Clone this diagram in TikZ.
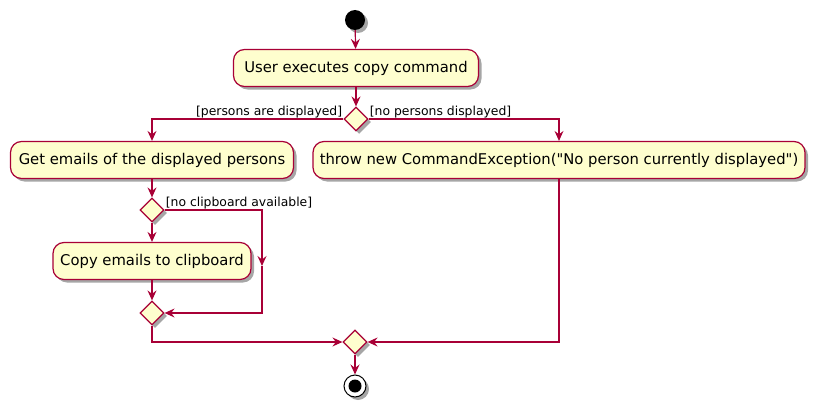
\documentclass[tikz,border=0pt]{standalone}
\usepackage{fontspec}
\newfontfamily\dvs{DejaVu Sans}
\usetikzlibrary{arrows.meta,shapes.geometric,shadows}
\definecolor{pborder}{HTML}{A80036}
\definecolor{pfill}{HTML}{FEFECE}
\begin{document}
\begin{tikzpicture}[x=1pt,y=-1pt,
  shad/.style={drop shadow={shadow xshift=3pt,shadow yshift=-3pt,opacity=0.35,fill=black}},
  actbox/.style={draw=pborder,fill=pfill,line width=1.2pt,rounded corners=11pt,
    minimum height=37pt,inner xsep=0pt,font=\dvs\fontsize{14.8}{16}\selectfont,shad},
  decis/.style={diamond,draw=pborder,fill=pfill,line width=1.2pt,minimum width=24pt,
    minimum height=24pt,inner sep=0pt,shad},
  conn/.style={draw=pborder,line width=1.2pt,-{Stealth[length=10pt,width=9pt,inset=3.5pt]}},
  guard/.style={font=\dvs\fontsize{12.4}{13}\selectfont,inner sep=1pt}]
\useasboundingbox (0,0) rectangle (821,412);
\node[circle,fill=black,minimum size=20pt,inner sep=0pt,shad] (start) at (355,20) {};
\node[actbox,minimum width=245pt] (b1) at (356,68) {User executes copy command};
\node[decis] (d1) at (356,119) {};
\node[actbox,minimum width=283pt] (b2) at (152,160) {Get emails of the displayed persons};
\node[actbox,minimum width=492pt] (b3) at (559,160) {throw new CommandException("No person currently displayed")};
\node[decis] (d2) at (152,210) {};
\node[actbox,minimum width=198pt] (b4) at (152,261) {Copy emails to clipboard};
\node[decis] (d3) at (152,313) {};
\node[decis] (d4) at (355,342) {};
\node[circle,draw=black,fill=white,line width=1pt,minimum size=22pt,inner sep=0pt,shad] (end) at (355,386) {};
\node[circle,fill=black,minimum size=13pt,inner sep=0pt] (endin) at (end) {};
\coordinate (c1) at (262,266);

\draw[conn] (start) -- (b1);
\draw[conn] (b1) -- (d1);
\draw[conn] (d1.west) -| (b2.north);
\draw[conn] (d1.east) -| (b3.north);
\node[guard,anchor=south east] (g1) at (d1.west) {[persons are displayed]};
\node[guard,anchor=south west] (g2) at (d1.east) {[no persons displayed]};
\draw[conn] (b2) -- (d2);
\draw[conn] (d2) -- (b4);
\draw[conn] (b4) -- (d3);
\node[guard,anchor=south west] (g3) at (d2.east) {[no clipboard available]};
\draw[conn] (d2.east) -| (c1);
\draw[conn] (c1) |- (d3.east);
\draw[conn] (d3.south) |- (d4.west);
\draw[conn] (b3.south) |- (d4.east);
\draw[conn] (d4) -- (end);
\end{tikzpicture}
\end{document}
